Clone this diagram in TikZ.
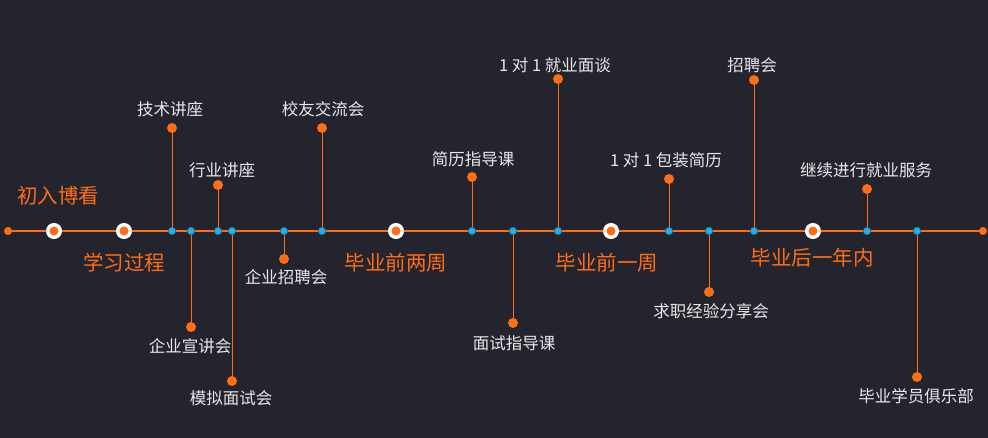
\documentclass[tikz,border=0pt]{standalone}
\usepackage{fontspec}
\newfontfamily\cjk{Noto Sans CJK SC}
\usetikzlibrary{calc}
\definecolor{bg}{RGB}{36,36,46}
\definecolor{orng}{RGB}{255,110,22}
\definecolor{blu}{RGB}{36,176,228}
\definecolor{bluedge}{RGB}{22,118,168}
\definecolor{txt}{RGB}{232,232,232}

\tikzset{
  stem/.style={draw=orng, line width=1pt},
  evdot/.style={circle, fill=orng, inner sep=0pt, minimum size=10pt},
  enddot/.style={circle, fill=orng, inner sep=0pt, minimum size=8pt},
  axdot/.style={circle, fill=blu, draw=bluedge, line width=0.6pt, inner sep=0pt, minimum size=7.5pt},
  mile/.style={circle, fill=orng, draw=white, line width=3.5pt, inner sep=0pt, minimum size=12.5pt},
  lbl/.style={text=txt, inner sep=0pt, font=\cjk\fontsize{16.5}{18}\selectfont},
  phase/.style={text=orng, inner sep=0pt, font=\cjk\fontsize{20.5}{22}\selectfont},
}

\begin{document}
\begin{tikzpicture}[x=1pt,y=-1pt]
        % Hintergrund, 988 x 438
        \fill[bg] (0,0) rectangle (988,438);
        \useasboundingbox (0,0) rectangle (988,438);

        % Zeitachse y=231
        \coordinate (S) at (8,231);
        \coordinate (T) at (983,231);

        % Punkte auf der Achse
        \coordinate (A1) at (172,231);
        \coordinate (A2) at (191,231);
        \coordinate (A3) at (218,231);
        \coordinate (A4) at (232,231);
        \coordinate (A5) at (284,231);
        \coordinate (A6) at (322,231);
        \coordinate (A7) at (472,231);
        \coordinate (A8) at (513,231);
        \coordinate (A9) at (558,231);
        \coordinate (A10) at (669,231);
        \coordinate (A11) at (709,231);
        \coordinate (A12) at (754,231);
        \coordinate (A13) at (867,231);
        \coordinate (A14) at (917,231);

        % Enden der Stiele
        \coordinate (E1) at (172,128);
        \coordinate (E2) at (191,327);
        \coordinate (E3) at (218,185);
        \coordinate (E4) at (232,381);
        \coordinate (E5) at (284,259);
        \coordinate (E6) at (322,128);
        \coordinate (E7) at (472,177);
        \coordinate (E8) at (513,323);
        \coordinate (E9) at (558,79);
        \coordinate (E10) at (669,179);
        \coordinate (E11) at (709,292);
        \coordinate (E12) at (754,80);
        \coordinate (E13) at (867,189);
        \coordinate (E14) at (917,377);

        \draw[orng, line width=2pt] (S) -- (T);

        % Stiele
        \foreach \i in {1,...,14}
          \draw[stem] (A\i) -- (E\i);

        \node[enddot] (s) at (S) {};
        \node[enddot] (t) at (T) {};
        \foreach \i in {1,...,14} {
          \node[axdot] (a\i) at (A\i) {};
          \node[evdot] (e\i) at (E\i) {};
        }

        % Abschnitte
        \node[mile] (m1) at (54,231) {};
        \node[mile] (m2) at (124,231) {};
        \node[mile] (m3) at (396,231) {};
        \node[mile] (m4) at (611,231) {};
        \node[mile] (m5) at (813,231) {};

        \node[phase] (p1) at (58,196) {初入博看};
        \node[phase] (p2) at (124,263) {学习过程};
        \node[phase] (p3) at (396,263) {毕业前两周};
        \node[phase] (p4) at (607,263) {毕业前一周};
        \node[phase] (p5) at (812,258) {毕业后一年内};

        % Beschriftungen
        \node[lbl] (l1) at (170,109) {技术讲座};
        \node[lbl] (l2) at (190,346) {企业宣讲会};
        \node[lbl] (l3) at (222,170) {行业讲座};
        \node[lbl] (l4) at (231,398) {模拟面试会};
        \node[lbl] (l5) at (286,277) {企业招聘会};
        \node[lbl] (l6) at (323,109) {校友交流会};
        \node[lbl] (l7) at (473,159) {简历指导课};
        \node[lbl] (l8) at (514,343) {面试指导课};
        \node[lbl] (l9) at (555,65) {1 对 1 就业面谈};
        \node[lbl] (l10) at (666,160) {1 对 1 包装简历};
        \node[lbl] (l11) at (711,311) {求职经验分享会};
        \node[lbl] (l12) at (752,65) {招聘会};
        \node[lbl] (l13) at (866,170) {继续进行就业服务};
        \node[lbl] (l14) at (916,396) {毕业学员俱乐部};
    \end{tikzpicture}
\end{document}
